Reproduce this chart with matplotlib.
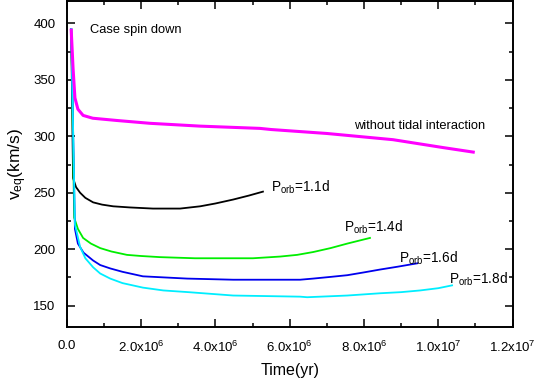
import matplotlib
matplotlib.use('Agg')
import matplotlib.pyplot as plt
from matplotlib.ticker import MultipleLocator, FuncFormatter

plt.rcParams['font.family'] = ['Liberation Sans', 'DejaVu Sans']
plt.rcParams['mathtext.fontset'] = 'custom'
plt.rcParams['mathtext.rm'] = 'Liberation Sans'
plt.rcParams['mathtext.it'] = 'Liberation Sans'

# time in units of 1e6 yr, velocity in km/s
t_free = [0.12, 0.17, 0.22, 0.3, 0.44, 0.7, 1.35, 2.24, 3.59, 5.2, 5.5, 7.0, 8.78, 10.13, 10.94]
v_free = [394, 360, 334, 324, 318.5, 316, 314, 311.5, 309, 307, 306, 302.5, 297, 290, 286]

t_11 = [0.12, 0.17, 0.25, 0.36, 0.5, 0.71, 0.95, 1.25, 1.7, 2.32, 3.05, 3.59, 4.0, 4.48, 4.9, 5.28]
v_11 = [395, 263, 255, 250, 245.5, 241.5, 239.5, 238, 237, 236, 236, 238, 240.5, 244, 247.5, 251]

t_14 = [0.12, 0.2, 0.3, 0.44, 0.65, 0.9, 1.2, 1.62, 2.0, 2.51, 3.45, 5.01, 5.74, 6.2, 6.63, 7.1, 7.55, 8.16]
v_14 = [395, 228, 218, 210, 205, 201, 198, 195, 194, 193, 192, 192, 193.5, 195, 197.5, 201, 205, 210]

t_16 = [0.12, 0.22, 0.3, 0.45, 0.71, 0.9, 1.17, 1.5, 2.05, 3.24, 4.48, 6.28, 6.63, 7.1, 7.55, 8.0, 8.43, 8.9, 9.43]
v_16 = [395, 218, 205, 197, 190, 186, 183, 180, 176, 174, 173, 173, 174, 175.5, 177, 179.5, 182, 184.5, 187.5]

t_18 = [0.12, 0.22, 0.36, 0.5, 0.71, 0.9, 1.17, 1.5, 2.05, 2.6, 3.27, 4.48, 6.28, 6.47, 7.55, 8.43, 9.0, 9.51, 10.0, 10.37]
v_18 = [395, 222, 202, 192, 184, 178.5, 174, 170, 166, 163.5, 162, 159, 158, 157.5, 159, 161, 162, 163.5, 165.5, 168]

fig = plt.figure(figsize=(5.34, 3.89), dpi=100)
ax = fig.add_axes([0.125, 0.159, 0.835, 0.839])

ax.plot([t * 1e6 for t in t_11], v_11, color='black', lw=1.3)
ax.plot([t * 1e6 for t in t_14], v_14, color='#00ee00', lw=1.3)
ax.plot([t * 1e6 for t in t_16], v_16, color='#0000ee', lw=1.3)
ax.plot([t * 1e6 for t in t_18], v_18, color='#00eeff', lw=1.3)
ax.plot([t * 1e6 for t in t_free], v_free, color='#ff00ff', lw=2.2)

ax.set_xlim(0, 1.2e7)
ax.set_ylim(131, 420)

ax.xaxis.set_major_locator(MultipleLocator(2e6))
ax.xaxis.set_minor_locator(MultipleLocator(1e6))
ax.yaxis.set_major_locator(MultipleLocator(50))
ax.yaxis.set_minor_locator(MultipleLocator(25))


def sci(x, pos):
    if x == 0:
        return '0.0'
    e = len(str(int(round(x)))) - 1
    m = x / 10 ** e
    return '%.1fx10$^{%d}$' % (m, e)


ax.xaxis.set_major_formatter(FuncFormatter(sci))
ax.tick_params(which='both', direction='in', top=True, right=True, width=1.1, labelsize=9.5)
ax.tick_params(which='major', length=5.5, pad=9)
ax.tick_params(which='minor', length=3)
ax.tick_params(axis='y', pad=8)
for s in ax.spines.values():
    s.set_linewidth(1.4)

ax.set_xlabel('Time(yr)', fontsize=11.5, labelpad=6)
ax.set_ylabel(r'v$_{\mathrm{eq}}$(km/s)', fontsize=12.5, labelpad=3)

ax.text(0.63e6, 394, 'Case spin down', fontsize=9.3, va='center')
ax.text(7.72e6, 309, 'without tidal interaction', fontsize=9.3, va='center')
ax.text(5.5e6, 255, r'P$_{\mathrm{orb}}$=1.1d', fontsize=9.8, va='center')
ax.text(7.45e6, 219, r'P$_{\mathrm{orb}}$=1.4d', fontsize=9.8, va='center')
ax.text(8.95e6, 192, r'P$_{\mathrm{orb}}$=1.6d', fontsize=9.8, va='center')
ax.text(10.3e6, 173, r'P$_{\mathrm{orb}}$=1.8d', fontsize=9.8, va='center')

fig.savefig('out.png', dpi=100)
